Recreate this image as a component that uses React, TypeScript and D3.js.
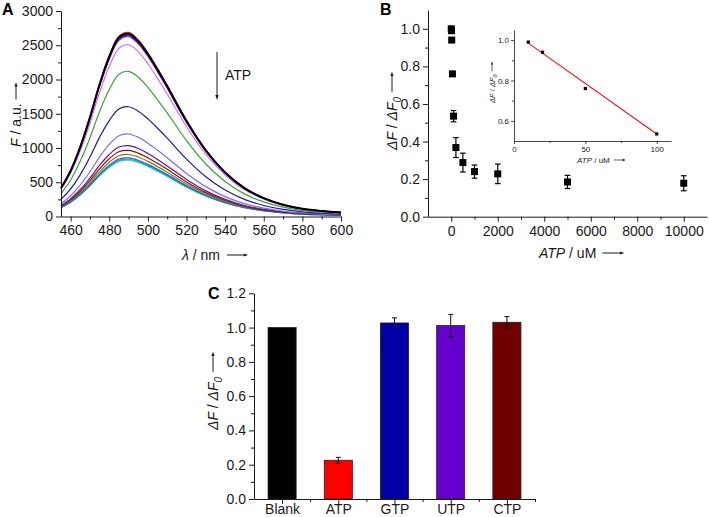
import React, { useEffect, useRef } from "react";
import * as d3 from "d3";

// ---------- Panel A: emission spectra ----------
const wavelengths = [455, 460, 465, 470, 475, 480, 485, 490, 495, 500, 505, 510, 520, 530, 540, 550, 560, 570, 580, 590, 600];
const spectra: number[][] = [
  [419, 675, 1026, 1458, 1944, 2349, 2633, 2687, 2579, 2390, 2160, 1917, 1404, 972, 648, 419, 270, 173, 113, 81, 59],
  [415, 670, 1018, 1447, 1930, 2332, 2613, 2667, 2559, 2372, 2144, 1903, 1394, 965, 643, 415, 268, 172, 113, 80, 59],
  [412, 665, 1011, 1436, 1915, 2314, 2594, 2647, 2540, 2354, 2128, 1889, 1383, 958, 638, 412, 266, 170, 112, 80, 59],
  [409, 660, 1003, 1426, 1901, 2297, 2574, 2627, 2521, 2336, 2112, 1874, 1373, 950, 634, 409, 264, 169, 111, 79, 58],
  [391, 630, 958, 1361, 1814, 2192, 2457, 2507, 2407, 2230, 2016, 1789, 1310, 907, 605, 391, 252, 161, 106, 76, 55],
  [330, 533, 809, 1150, 1534, 1853, 2077, 2119, 2034, 1885, 1704, 1512, 1108, 767, 511, 330, 213, 136, 89, 64, 47],
  [250, 403, 612, 869, 1159, 1401, 1570, 1602, 1538, 1425, 1288, 1143, 837, 580, 386, 250, 161, 103, 68, 48, 35],
  [188, 303, 460, 653, 871, 1053, 1180, 1204, 1156, 1071, 968, 859, 629, 436, 290, 188, 121, 77, 51, 36, 27],
  [161, 260, 395, 562, 749, 905, 1014, 1035, 993, 920, 832, 738, 541, 374, 250, 161, 104, 67, 44, 31, 23],
  [150, 243, 369, 524, 698, 844, 946, 965, 926, 858, 776, 689, 504, 349, 233, 150, 97, 62, 41, 29, 21],
  [141, 228, 346, 491, 655, 792, 887, 905, 869, 805, 728, 646, 473, 328, 218, 141, 91, 58, 38, 27, 20],
  [133, 215, 327, 464, 619, 748, 839, 856, 821, 761, 688, 611, 447, 310, 206, 133, 86, 55, 36, 26, 19],
  [130, 210, 319, 454, 605, 731, 819, 836, 802, 743, 672, 596, 437, 302, 202, 130, 84, 54, 35, 25, 18],
  [128, 206, 314, 446, 594, 718, 804, 821, 788, 730, 660, 586, 429, 297, 198, 128, 83, 53, 35, 25, 18],
];
const spectraColors = ["#ff1a1a", "#000000", "#2b1f8f", "#8a2be2", "#d070f0", "#3aa03a", "#1c1c96", "#7b6cf0", "#5a1a8c", "#8b1010", "#7d7d10", "#2f5fc0", "#20a8a8", "#30c8e0"];
const aXTicks = [460, 480, 500, 520, 540, 560, 580, 600];
const aXMinor = [470, 490, 510, 530, 550, 570, 590];
const aYTicks = [0, 500, 1000, 1500, 2000, 2500, 3000];
const aYMinor = [250, 750, 1250, 1750, 2250, 2750];

// ---------- Panel B: titration ----------
const atpConc = [0, 10, 20, 50, 100, 200, 500, 1000, 2000, 5000, 10000];
const ratio = [1.0, 0.99, 0.94, 0.76, 0.535, 0.368, 0.288, 0.24, 0.228, 0.185, 0.178];
const ratioErr = [0.01, 0.01, 0.008, 0.01, 0.03, 0.053, 0.05, 0.035, 0.052, 0.035, 0.04];
const bXTicks = [0, 2000, 4000, 6000, 8000, 10000];
const bXMinor = [1000, 3000, 5000, 7000, 9000];
const bYTicks = [0, 0.2, 0.4, 0.6, 0.8, 1.0];
const bYMinor = [0.1, 0.3, 0.5, 0.7, 0.9];

// inset
const insetConc = [10, 20, 50, 100];
const insetRatio = [0.99, 0.94, 0.76, 0.535];
const fitConc = [10, 100];
const fitRatio = [0.985, 0.535];
const insetXTicks = [0, 50, 100];
const insetXMinor = [25, 75];
const insetYTicks = [0.6, 0.8, 1.0];
const insetYMinor = [0.7, 0.9];

// ---------- Panel C: selectivity ----------
const nucleotides = ["Blank", "ATP", "GTP", "UTP", "CTP"];
const selectivity = [1.0, 0.226, 1.027, 1.012, 1.031];
const selectivityErr = [0, 0.017, 0.03, 0.065, 0.033];
const barColors = ["#000000", "#ff0000", "#0000a8", "#6600cc", "#700000"];
const cYTicks = [0, 0.2, 0.4, 0.6, 0.8, 1.0, 1.2];
const cYMinor = [0.1, 0.3, 0.5, 0.7, 0.9, 1.1];

const FONT = "'Liberation Sans', Arial, Helvetica, sans-serif";
const INK = "#1a1a1a";

type Part = { text: string; italic?: boolean; sub?: boolean };

export default function App() {
  const ref = useRef<SVGSVGElement>(null);

  useEffect(() => {
    const svg = d3.select(ref.current as SVGSVGElement);
    svg.selectAll("*").remove();
    svg.attr("font-family", FONT);

    function drawAxis(
      orient: "left" | "bottom",
      scale: any,
      major: number[],
      minor: number[],
      fmt: (d: any) => string,
      o: { x: number; y: number; fs: number; tick: number; minorTick: number; pad: number; sw?: number }
    ) {
      const gen = (orient === "left" ? d3.axisLeft(scale) : d3.axisBottom(scale))
        .tickValues(major)
        .tickFormat(fmt as any)
        .tickSize(o.tick)
        .tickSizeOuter(0)
        .tickPadding(o.pad);
      const g = svg.append("g").attr("transform", `translate(${o.x},${o.y})`);
      g.call(gen as any);
      g.attr("font-size", o.fs).attr("font-family", FONT);
      g.selectAll("text").attr("fill", INK);
      g.selectAll("line").attr("stroke", INK).attr("stroke-width", o.sw ?? 1);
      g.select(".domain").attr("stroke", INK).attr("stroke-width", o.sw ?? 1);
      const genMinor = (orient === "left" ? d3.axisLeft(scale) : d3.axisBottom(scale))
        .tickValues(minor)
        .tickFormat(() => "")
        .tickSize(o.minorTick)
        .tickSizeOuter(0);
      const gm = svg.append("g").attr("transform", `translate(${o.x},${o.y})`);
      gm.call(genMinor as any);
      gm.select(".domain").remove();
      gm.selectAll("line").attr("stroke", INK).attr("stroke-width", o.sw ?? 1);
    }

    function label(x: number, y: number, rot: number, parts: Part[], fs: number, gap: number, arrowLen: number) {
      const g = svg.append("g").attr("transform", `translate(${x},${y}) rotate(${rot})`);
      const t = g.append("text").attr("x", 0).attr("y", fs * 0.36).attr("font-size", fs).attr("fill", INK);
      parts.forEach((p) => {
        const ts = t.append("tspan").text(p.text);
        if (p.italic) ts.attr("font-style", "italic");
        if (p.sub) ts.attr("font-size", fs * 0.72).attr("dy", fs * 0.28);
      });
      const w = (t.node() as SVGTextElement).getComputedTextLength();
      const x0 = w + gap;
      const x1 = x0 + arrowLen;
      const ah = Math.max(3, fs * 0.3);
      g.append("line").attr("x1", x0).attr("x2", x1 - ah * 0.8).attr("y1", 0).attr("y2", 0).attr("stroke", INK).attr("stroke-width", fs > 10 ? 1 : 0.7);
      g.append("path")
        .attr("d", `M${x1},0 L${x1 - ah},${-ah * 0.38} L${x1 - ah},${ah * 0.38} Z`)
        .attr("fill", INK);
    }

    function panelLetter(x: number, y: number, s: string) {
      svg.append("text").attr("x", x).attr("y", y).attr("font-size", 16).attr("font-weight", "bold").attr("fill", "#000").text(s);
    }

    const ratioParts: Part[] = [
      { text: "ΔF", italic: true },
      { text: " / " },
      { text: "ΔF", italic: true },
      { text: "0", italic: true, sub: true },
    ];

    // ================= Panel A =================
    const ax = d3.scaleLinear().domain([455, 600]).range([61, 341]);
    const ay = d3.scaleLinear().domain([0, 3000]).range([216.5, 11]);
    const line = d3
      .line<number>()
      .x((_, i) => ax(wavelengths[i]))
      .y((d) => ay(d))
      .curve(d3.curveCatmullRom.alpha(0.5));
    const drawOrder = d3.range(spectra.length).reverse().filter((i) => i !== 1).concat([1]);
    drawOrder.forEach((i) => {
      svg
        .append("path")
        .attr("d", line(spectra[i]) as string)
        .attr("fill", "none")
        .attr("stroke", spectraColors[i])
        .attr("stroke-width", i === 1 ? 2 : 1.2);
    });
    drawAxis("left", ay, aYTicks, aYMinor, (d) => String(d), { x: 61, y: 0, fs: 14, tick: 5, minorTick: 3, pad: 3 });
    drawAxis("bottom", ax, aXTicks, aXMinor, (d) => String(d), { x: 0, y: 216.5, fs: 14, tick: 5, minorTick: 3, pad: 4 });
    label(16, 147, -90, [{ text: "F", italic: true }, { text: " / a.u." }], 14, 4, 17);
    label(182, 255, 0, [{ text: "λ", italic: true }, { text: " / nm" }], 14, 7, 21);
    panelLetter(2, 15, "A");
    // ATP arrow annotation
    svg.append("line").attr("x1", 217).attr("x2", 217).attr("y1", 52).attr("y2", 96).attr("stroke", INK).attr("stroke-width", 1);
    svg.append("path").attr("d", "M217,100 L215.3,95 L218.7,95 Z").attr("fill", INK);
    svg.append("text").attr("x", 225).attr("y", 80).attr("font-size", 14).attr("fill", INK).text("ATP");

    // ================= Panel B =================
    const bx = d3.scaleLinear().domain([-1000, 11000]).range([428, 707]);
    const by = d3.scaleLinear().domain([0, 1.1]).range([216.7, 10]);
    drawAxis("left", by, bYTicks, bYMinor, (d) => d3.format(".1f")(d), { x: 428, y: 0, fs: 14, tick: 5, minorTick: 3, pad: 3 });
    drawAxis("bottom", bx, bXTicks, bXMinor, (d) => String(d), { x: 0, y: 216.7, fs: 14, tick: 5, minorTick: 3, pad: 4 });
    const gB = svg.append("g");
    atpConc.forEach((c, i) => {
      const cx = bx(c);
      const y1 = by(ratio[i] + ratioErr[i]);
      const y2 = by(ratio[i] - ratioErr[i]);
      gB.append("line").attr("x1", cx).attr("x2", cx).attr("y1", y1).attr("y2", y2).attr("stroke", "#000").attr("stroke-width", 1.2);
      [y1, y2].forEach((yy) =>
        gB.append("line").attr("x1", cx - 2.8).attr("x2", cx + 2.8).attr("y1", yy).attr("y2", yy).attr("stroke", "#000").attr("stroke-width", 1.2)
      );
      gB.append("rect").attr("x", cx - 3.5).attr("y", by(ratio[i]) - 3.5).attr("width", 7).attr("height", 7).attr("fill", "#000");
    });
    label(392, 150, -90, ratioParts, 14, 5, 20);
    label(539, 253, 0, [{ text: "ATP", italic: true }, { text: " / uM" }], 14, 6, 22);
    panelLetter(380, 15, "B");

    // inset
    const ix = d3.scaleLinear().domain([0, 110]).range([514, 671]);
    const iy = d3.scaleLinear().domain([0.5, 1.05]).range([141, 30]);
    drawAxis("left", iy, insetYTicks, insetYMinor, (d) => d3.format(".1f")(d), { x: 514, y: 0, fs: 8, tick: 3, minorTick: 2, pad: 2, sw: 0.8 });
    drawAxis("bottom", ix, insetXTicks, insetXMinor, (d) => String(d), { x: 0, y: 141, fs: 8, tick: 3, minorTick: 2, pad: 2, sw: 0.8 });
    const fitLine = d3
      .line<number>()
      .x((_, i) => ix(fitConc[i]))
      .y((d) => iy(d));
    svg.append("path").attr("d", fitLine(fitRatio) as string).attr("stroke", "#e8161b").attr("stroke-width", 1.2).attr("fill", "none");
    insetConc.forEach((c, i) => {
      svg.append("rect").attr("x", ix(c) - 1.6).attr("y", iy(insetRatio[i]) - 1.6).attr("width", 3.2).attr("height", 3.2).attr("fill", "#000");
    });
    label(492, 103, -90, ratioParts, 7.5, 3, 10);
    label(577, 160, 0, [{ text: "ATP", italic: true }, { text: " / uM" }], 8, 4, 12);

    // ================= Panel C =================
    const cx = d3.scaleLinear().domain([0.5, 5.5]).range([254, 535]);
    const cy = d3.scaleLinear().domain([0, 1.2]).range([499, 293.3]);
    const bw = cx(1.25) - cx(0.75);
    nucleotides.forEach((n, i) => {
      const xc = cx(i + 1);
      svg
        .append("rect")
        .attr("x", xc - bw / 2)
        .attr("y", cy(selectivity[i]))
        .attr("width", bw)
        .attr("height", cy(0) - cy(selectivity[i]))
        .attr("fill", barColors[i])
        .attr("stroke", "#222")
        .attr("stroke-width", 0.8);
      if (selectivityErr[i] > 0) {
        const y1 = cy(selectivity[i] + selectivityErr[i]);
        const y2 = cy(selectivity[i] - selectivityErr[i]);
        svg.append("line").attr("x1", xc).attr("x2", xc).attr("y1", y1).attr("y2", y2).attr("stroke", "#111").attr("stroke-width", 1);
        [y1, y2].forEach((yy) =>
          svg.append("line").attr("x1", xc - 2.5).attr("x2", xc + 2.5).attr("y1", yy).attr("y2", yy).attr("stroke", "#111").attr("stroke-width", 1)
        );
      }
    });
    drawAxis("left", cy, cYTicks, cYMinor, (d) => d3.format(".1f")(d), { x: 254, y: 0, fs: 14, tick: 5, minorTick: 3, pad: 3 });
    drawAxis(
      "bottom",
      cx,
      [1, 2, 3, 4, 5],
      [1.5, 2.5, 3.5, 4.5, 5.5],
      (d) => nucleotides[(d as number) - 1],
      { x: 0, y: 499, fs: 14, tick: 5, minorTick: 3, pad: 0 }
    );
    label(213, 430, -90, ratioParts, 14, 5, 20);
    panelLetter(208, 299, "C");
  }, []);

  return (
    <svg
      ref={ref}
      width={709}
      height={517}
      style={{ position: "absolute", left: 0, top: 0, background: "#fff" }}
    />
  );
}
